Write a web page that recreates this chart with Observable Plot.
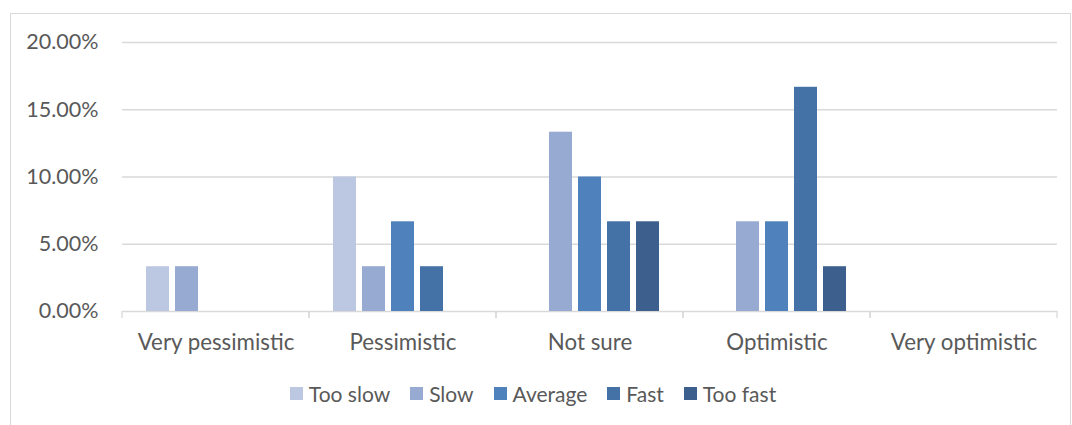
<!DOCTYPE html>
<html>
<head>
<meta charset="utf-8">
<script src="https://cdn.jsdelivr.net/npm/d3@7"></script>
<script src="https://cdn.jsdelivr.net/npm/@observablehq/plot@0.6"></script>
<style>
  html, body { margin: 0; padding: 0; background: #fff; }
  body { width: 1072px; height: 425px; position: relative; overflow: hidden; font-family: Lato, "Open Sans", sans-serif; color: #595959; }
  #box { position: absolute; left: 10px; top: 13px; width: 1061px; height: 430px; border: 1px solid #d9d9d9; box-sizing: border-box; }
  #chart { position: absolute; left: 0; top: 0; }
  #legend { position: absolute; top: 381px; left: 0; width: 1066px; display: flex; justify-content: center; font-size: 21px; }
  #legend .item { display: flex; align-items: center; margin: 0 10px; }
  #legend .sw { width: 13px; height: 13px; margin-right: 6px; }
  #chart g[aria-label="y-axis tick label"] { font-size: 21.5px; }
  #chart g[aria-label="fx-axis tick label"] { font-size: 22.3px; }
</style>
</head>
<body>
<div id="box"></div>
<div id="chart"></div>
<div id="legend"></div>
<script>
const categories = ["Very pessimistic", "Pessimistic", "Not sure", "Optimistic", "Very optimistic"];
const series = ["Too slow", "Slow", "Average", "Fast", "Too fast"];
const colors = ["#bcc8e1", "#97aad2", "#4f81bd", "#4472a7", "#3c5f8e"];
const tooSlow = [0.0333, 0.1, 0, 0, 0];
const slow    = [0.0333, 0.0333, 0.1333, 0.0667, 0];
const average = [0, 0.0667, 0.1, 0.0667, 0];
const fast    = [0, 0.0333, 0.0667, 0.1667, 0];
const tooFast = [0, 0, 0.0667, 0.0333, 0];
const yTicks = [0, 0.05, 0.10, 0.15, 0.20];

const valuesBySeries = [tooSlow, slow, average, fast, tooFast];
const rows = [];
categories.forEach((c, i) => series.forEach((s, j) => rows.push({category: c, series: s, value: valuesBySeries[j][i]})));

function boundaryTicks(index, scales, values, dimensions) {
  const r = scales.x.range();
  const y0 = scales.y(0);
  const g = d3.create("svg:g");
  for (const x of r) {
    g.append("line").attr("x1", x).attr("x2", x).attr("y1", y0).attr("y2", y0 + 7)
      .attr("stroke", "#d9d9d9").attr("stroke-width", 1.3);
  }
  return g.node();
}

const chart = Plot.plot({
  width: 1072,
  height: 360,
  marginTop: 42,
  marginBottom: 49,
  marginLeft: 122,
  marginRight: 15,
  style: {fontSize: "22px", fontFamily: "Lato, 'Open Sans', sans-serif", color: "#595959", background: "transparent"},
  fx: {domain: categories, padding: 0, label: null, axis: "bottom", tickSize: 0, tickPadding: 23},
  x: {domain: series, axis: null, paddingInner: 0.22, paddingOuter: 0.83},
  y: {domain: [0, 0.2], ticks: yTicks, tickFormat: d3.format(".2%"), tickSize: 0, tickPadding: 24, label: null},
  color: {domain: series, range: colors},
  marks: [
    Plot.ruleY(yTicks.filter(d => d > 0), {stroke: "#d9d9d9", strokeWidth: 1.3}),
    Plot.ruleY([0], {stroke: "#d9d9d9", strokeWidth: 1.5}),
    boundaryTicks,
    Plot.barY(rows, {fx: "category", x: "series", y: "value", fill: "series", fillOpacity: d => d.value > 0 ? 1 : 0})
  ]
});
document.getElementById("chart").appendChild(chart);

const legend = d3.select("#legend");
series.forEach((s, j) => {
  const it = legend.append("div").attr("class", "item");
  it.append("div").attr("class", "sw").style("background", colors[j]);
  it.append("span").text(s);
});
</script>
</body>
</html>
